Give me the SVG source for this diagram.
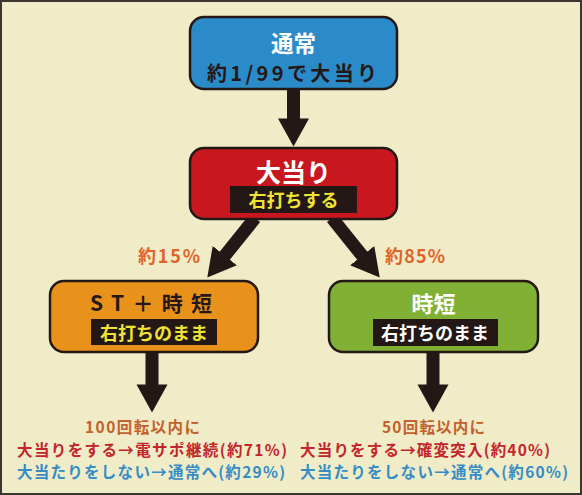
<svg xmlns="http://www.w3.org/2000/svg" width="582" height="495" viewBox="0 0 582 495">
<style>
text{font-family:"Noto Sans CJK JP","Noto Sans",sans-serif;font-weight:bold;}
.box{stroke:#231815;stroke-width:2.5;}
.tag{fill:#231815;}
.conn{stroke:#231815;stroke-width:13;fill:none;}
.pct{fill:#E0642A;font-size:18px;}
.c{text-anchor:middle;}
.r{font-size:15.5px;}
</style>
<defs>
<marker id="ah" viewBox="0 0 28 31" refX="0.5" refY="15.5" markerWidth="2.154" markerHeight="2.385" markerUnits="strokeWidth" orient="auto">
<path d="M0,0 L28,15.5 L0,31 z" fill="#231815"/>
</marker>
</defs>
<rect x="1" y="1" width="580" height="493" fill="#F0ECC7" stroke="#3d3532" stroke-width="2"/>
<g id="connectors">
<line class="conn" x1="293.5" y1="88" x2="293.5" y2="119" marker-end="url(#ah)"/>
<line class="conn" x1="255" y1="218" x2="224.5" y2="256" marker-end="url(#ah)"/>
<line class="conn" x1="332" y1="218" x2="362.5" y2="256" marker-end="url(#ah)"/>
<line class="conn" x1="152" y1="352" x2="152" y2="385" marker-end="url(#ah)"/>
<line class="conn" x1="433" y1="352" x2="433" y2="385" marker-end="url(#ah)"/>
<text class="pct" x="138" y="263" textLength="62">約15%</text>
<text class="pct" x="385" y="263" textLength="60">約85%</text>
</g>
<g id="normal">
<rect class="box" x="190" y="17" width="207" height="72" rx="14" fill="#2B8BC9"/>
<text class="c" x="293.5" y="51.5" font-size="22.5" fill="#ffffff">通常</text>
<text x="207" y="81" font-size="20" fill="#231815" textLength="170">約1/99で大当り</text>
</g>
<g id="bigwin">
<rect class="box" x="190" y="148" width="207" height="71" rx="14" fill="#C8171E"/>
<text class="c" x="293.5" y="182" font-size="25" fill="#ffffff">大当り</text>
<rect class="tag" x="230" y="186" width="127" height="27"/>
<text class="c" x="293.5" y="207" font-size="18" fill="#EFE334">右打ちする</text>
</g>
<g id="st">
<rect class="box" x="50" y="281" width="208" height="71" rx="14" fill="#E8921C"/>
<text x="90" y="311" font-size="21" fill="#231815" textLength="122" lengthAdjust="spacing">ST＋時短</text>
<rect class="tag" x="91" y="319" width="126" height="26"/>
<text class="c" x="154" y="340" font-size="18" fill="#EFE334">右打ちのまま</text>
</g>
<g id="jitan">
<rect class="box" x="329" y="281" width="209" height="71" rx="14" fill="#80B135"/>
<text class="c" x="433.5" y="312" font-size="22" fill="#ffffff">時短</text>
<rect class="tag" x="373" y="319" width="125" height="27"/>
<text class="c" x="435" y="340" font-size="18" fill="#ffffff">右打ちのまま</text>
</g>
<g id="result-st">
<text class="r" x="85" y="433" fill="#C2612C" textLength="115">100回転以内に</text>
<text class="r" x="17" y="456" fill="#C4252C" textLength="270">大当りをする→電サポ継続(約71%)</text>
<text class="r" x="17" y="478" fill="#358CC6" textLength="268">大当たりをしない→通常へ(約29%)</text>
</g>
<g id="result-jitan">
<text class="r" x="382" y="433" fill="#C2612C" textLength="103">50回転以内に</text>
<text class="r" x="300" y="456" fill="#C4252C" textLength="250">大当りをする→確変突入(約40%)</text>
<text class="r" x="300" y="478" fill="#358CC6" textLength="268">大当たりをしない→通常へ(約60%)</text>
</g>
</svg>
